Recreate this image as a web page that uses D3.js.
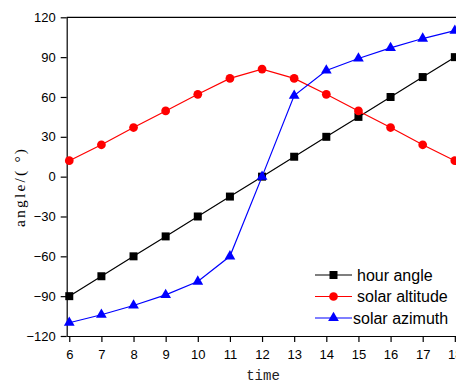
<!DOCTYPE html>
<html>
<head>
<meta charset="utf-8">
<script src="https://cdn.jsdelivr.net/npm/d3@7"></script>
<style>
  body { margin: 0; background: #fff; }
  svg text { font-family: "Liberation Sans", Arial, sans-serif; }
</style>
</head>
<body>
<div id="container"></div>
<script>
/* DATA */
const hours = [6, 7, 8, 9, 10, 11, 12, 13, 14, 15, 16, 17, 18];
const hourAngle = [-90, -75, -60, -45, -30, -15, 0, 15, 30, 45, 60, 75, 90];
const solarAltitude = [12, 24, 37, 49.5, 62, 74, 81, 74, 62, 49.5, 37, 24, 12];
const solarAzimuth = [-110, -104, -97, -89, -79, -60, 0, 61, 80, 89, 97, 104, 110];
const yTicks = [-120, -90, -60, -30, 0, 30, 60, 90, 120];

const width = 456, height = 383;

const xScale = d3.scaleLinear().domain([5.92, 18.08]).range([66.7, 457.4]);
const yScale = d3.scaleLinear().domain([-120, 120]).range([336, 17.3]);

const svg = d3.select("#container").append("svg")
  .attr("width", width).attr("height", height);

// frame (top line)
svg.append("line")
  .attr("x1", xScale.range()[0]).attr("x2", xScale.range()[1])
  .attr("y1", yScale(120)).attr("y2", yScale(120))
  .attr("stroke", "#000").attr("stroke-width", 1.2);

// axes
const xAxis = svg.append("g")
  .attr("transform", `translate(0,${yScale(-120)})`)
  .call(d3.axisBottom(xScale).tickValues(hours).tickSize(6).tickSizeOuter(0));
const yAxis = svg.append("g")
  .attr("transform", `translate(${xScale.range()[0]},0)`)
  .call(d3.axisLeft(yScale).tickValues(yTicks).tickSize(6).tickSizeOuter(0));

[xAxis, yAxis].forEach(g => {
  g.select(".domain").attr("stroke-width", 1.2);
  g.selectAll(".tick line").attr("stroke-width", 1.2);
  g.selectAll(".tick text").attr("font-size", 13).attr("fill", "#000")
    .attr("font-family", "Liberation Sans, Arial, sans-serif");
});
xAxis.selectAll(".tick text").attr("dy", "1.05em");
yAxis.selectAll(".tick text").attr("x", -11);

// axis titles
svg.append("text")
  .attr("x", 263).attr("y", 379.5)
  .attr("text-anchor", "middle")
  .attr("font-size", 14)
  .attr("fill", "#222")
  .style("font-family", "'Liberation Mono', 'Liberation Serif', serif")
  .text("time");

svg.append("text")
  .attr("transform", "translate(25,188) rotate(-90)")
  .attr("text-anchor", "middle")
  .style("font-family", "'Liberation Serif', serif")
  .attr("font-size", 15.5)
  .attr("textLength", 78)
  .attr("lengthAdjust", "spacing")
  .text("angle/(  \u00b0)");

/* SERIES */
const series = [
  { name: "hour angle", values: hourAngle, color: "#000", shape: d3.symbolSquare, size: 64 },
  { name: "solar altitude", values: solarAltitude, color: "#ff0000", shape: d3.symbolCircle, size: 60 },
  { name: "solar azimuth", values: solarAzimuth, color: "#0000ff", shape: d3.symbolTriangle, size: 50 }
];

const line = d3.line()
  .x(d => xScale(d[0]))
  .y(d => yScale(d[1]));

series.forEach(s => {
  const pts = hours.map((h, i) => [h, s.values[i]]);
  svg.append("path")
    .datum(pts)
    .attr("d", line)
    .attr("fill", "none")
    .attr("stroke", s.color)
    .attr("stroke-width", 1.2);
  svg.selectAll(null)
    .data(pts)
    .join("path")
    .attr("transform", d => `translate(${xScale(d[0])},${yScale(d[1])})`)
    .attr("d", d3.symbol().type(s.shape).size(s.size))
    .attr("fill", s.color);
});

/* LEGEND */
const legend = svg.append("g").attr("transform", "translate(315,275)");
series.forEach((s, i) => {
  const g = legend.append("g").attr("transform", `translate(0,${i * 21.5})`);
  g.append("line").attr("x1", 0).attr("x2", 37)
    .attr("stroke", s.color).attr("stroke-width", 1.2);
  g.append("path")
    .attr("transform", "translate(18.5,0)")
    .attr("d", d3.symbol().type(s.shape).size(s.size))
    .attr("fill", s.color);
  g.append("text")
    .attr("x", i === 2 ? 38 : 42).attr("y", 5.5)
    .attr("font-size", 16)
    .text(s.name);
});
</script>
</body>
</html>
